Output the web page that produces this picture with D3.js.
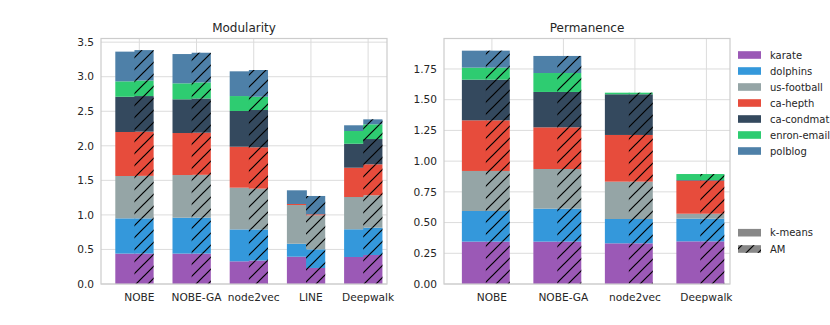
<!DOCTYPE html>
<html>
<head>
<meta charset="utf-8">
<script src="https://cdn.jsdelivr.net/npm/d3@7"></script>
<style>
  body { margin: 0; background: #fff; }
  svg { display: block; font-family: "DejaVu Sans", sans-serif; }
</style>
</head>
<body>
<div class="chart"></div>
<script>
// series (stack order, bottom to top)
var seriesNames = ["karate", "dolphins", "us-football", "ca-hepth", "ca-condmat", "enron-email", "polblog"];
var seriesColors = ["#9b59b6", "#3498db", "#95a5a6", "#e74c3c", "#34495e", "#2ecc71", "#4e80a8"];

// Modularity panel
var modCategories = ["NOBE", "NOBE-GA", "node2vec", "LINE", "Deepwalk"];
var modTicks = [0, 0.5, 1.0, 1.5, 2.0, 2.5, 3.0, 3.5];
// rows = series, cols = categories
var modKmeans = [
  [0.44, 0.44, 0.328, 0.395, 0.391],
  [0.51, 0.52, 0.462, 0.188, 0.401],
  [0.613, 0.617, 0.604, 0.56, 0.467],
  [0.637, 0.608, 0.593, 0.015, 0.424],
  [0.51, 0.488, 0.517, 0, 0.347],
  [0.223, 0.231, 0.216, 0, 0.184],
  [0.43, 0.424, 0.358, 0.198, 0.083]
];
var modAM = [
  [0.44, 0.44, 0.34, 0.232, 0.42],
  [0.51, 0.52, 0.45, 0.27, 0.395],
  [0.615, 0.62, 0.59, 0.492, 0.469],
  [0.64, 0.61, 0.598, 0.015, 0.448],
  [0.515, 0.495, 0.54, 0, 0.366],
  [0.225, 0.232, 0.192, 0, 0.213],
  [0.44, 0.43, 0.387, 0.265, 0.072]
];

// Permanence panel
var permCategories = ["NOBE", "NOBE-GA", "node2vec", "Deepwalk"];
var permTicks = [0, 0.25, 0.5, 0.75, 1.0, 1.25, 1.5, 1.75];
var permKmeans = [
  [0.345, 0.345, 0.331, 0.347],
  [0.249, 0.268, 0.198, 0.185],
  [0.326, 0.323, 0.304, 0.04],
  [0.412, 0.339, 0.38, 0.269],
  [0.331, 0.288, 0.331, 0.005],
  [0.098, 0.154, 0.013, 0.049],
  [0.138, 0.139, 0, 0]
];
var permAM = [
  [0.345, 0.345, 0.331, 0.347],
  [0.249, 0.268, 0.198, 0.185],
  [0.326, 0.323, 0.304, 0.04],
  [0.412, 0.339, 0.38, 0.269],
  [0.331, 0.288, 0.331, 0.005],
  [0.098, 0.154, 0.013, 0.049],
  [0.138, 0.139, 0, 0]
];

var methods = ["k-means", "AM"];

var w = 830, h = 325;
var svg = d3.select("div.chart").append("svg")
  .attr("width", w).attr("height", h);

//hatch pattern for AM bars
var defs = svg.append("defs");
defs.append("pattern")
  .attr("id", "hatch")
  .attr("patternUnits", "userSpaceOnUse")
  .attr("width", 12).attr("height", 12)
  .append("path")
    .attr("d", "M-3,3 l6,-6 M0,12 l12,-12 M9,15 l6,-6")
    .attr("stroke", "#000")
    .attr("stroke-width", 1.2);

function stackUp(rows) {
  // cumulative bottoms/tops per category
  var out = [];
  var nCat = rows[0].length;
  var base = d3.range(nCat).map(function(){ return 0; });
  rows.forEach(function(row, s) {
    row.forEach(function(v, c) {
      out.push({s: s, c: c, y0: base[c], y1: base[c] + v});
      base[c] += v;
    });
  });
  return out;
}

function drawPanel(opts) {
  var x = d3.scaleLinear().domain([-0.67, opts.categories.length - 1 + 0.33]).range([opts.left, opts.right]);
  var y = d3.scaleLinear().domain([0, opts.ymax]).range([opts.bottom, opts.top]);
  var g = svg.append("g");

  //grid
  g.append("g").selectAll("line.hg")
    .data(opts.ticks).enter().append("line")
      .attr("x1", opts.left).attr("x2", opts.right)
      .attr("y1", function(d){ return y(d); }).attr("y2", function(d){ return y(d); })
      .attr("stroke", "#dcdcdc").attr("stroke-width", 1);
  g.append("g").selectAll("line.vg")
    .data(opts.categories).enter().append("line")
      .attr("x1", function(d, i){ return x(i); }).attr("x2", function(d, i){ return x(i); })
      .attr("y1", opts.top).attr("y2", opts.bottom)
      .attr("stroke", "#dcdcdc").attr("stroke-width", 1);

  var bw = x(0.335) - x(0);
  [opts.kmeans, opts.am].forEach(function(rows, m) {
    var off = m === 0 ? -0.42 : -0.085;
    var segs = stackUp(rows);
    var bars = g.append("g");
    bars.selectAll("rect")
      .data(segs).enter().append("rect")
        .attr("x", function(d){ return x(d.c + off); })
        .attr("width", m === 0 ? bw + 0.8 : bw)
        .attr("y", function(d){ return y(d.y1); })
        .attr("height", function(d){ return y(d.y0) - y(d.y1); })
        .attr("fill", function(d){ return seriesColors[d.s]; });
    if (m === 1) {
      bars.selectAll("rect.h")
        .data(segs).enter().append("rect")
          .attr("x", function(d){ return x(d.c + off); })
          .attr("width", bw)
          .attr("y", function(d){ return y(d.y1); })
          .attr("height", function(d){ return y(d.y0) - y(d.y1); })
          .attr("fill", "url(#hatch)");
    }
  });

  //frame
  g.append("rect")
    .attr("x", opts.left).attr("y", opts.top)
    .attr("width", opts.right - opts.left).attr("height", opts.bottom - opts.top)
    .attr("fill", "none").attr("stroke", "#cccccc").attr("stroke-width", 1.2);

  //y tick labels
  g.append("g").selectAll("text")
    .data(opts.ticks).enter().append("text")
      .attr("x", opts.left - 7)
      .attr("y", function(d){ return y(d); })
      .attr("dy", "0.35em")
      .attr("text-anchor", "end")
      .attr("font-size", "10.6px")
      .attr("fill", "#262626")
      .text(function(d){ return d3.format(opts.fmt)(d); });

  //x tick labels
  g.append("g").selectAll("text")
    .data(opts.categories).enter().append("text")
      .attr("x", function(d, i){ return x(i); })
      .attr("y", opts.bottom + 17)
      .attr("text-anchor", "middle")
      .attr("font-size", "10.6px")
      .attr("fill", "#262626")
      .text(function(d){ return d; });

  //title
  g.append("text")
    .attr("x", (opts.left + opts.right) / 2)
    .attr("y", opts.top - 7)
    .attr("text-anchor", "middle")
    .attr("font-size", "12px")
    .attr("fill", "#262626")
    .text(opts.title);
}

drawPanel({
  title: "Modularity", categories: modCategories, ticks: modTicks,
  kmeans: modKmeans, am: modAM, ymax: 3.553, fmt: ".1f",
  left: 101, right: 387, top: 38.5, bottom: 284
});
drawPanel({
  title: "Permanence", categories: permCategories, ticks: permTicks,
  kmeans: permKmeans, am: permAM, ymax: 1.998, fmt: ".2f",
  left: 444, right: 730, top: 38.5, bottom: 284
});

//legend
var legend = svg.append("g");
var rowY = d3.scaleLinear().domain([0, 1]).range([55, 71]);
var items = legend.selectAll("g.item")
  .data(seriesNames).enter().append("g")
    .attr("transform", function(d, i){ return "translate(738," + rowY(i) + ")"; });
items.append("rect")
  .attr("x", 0).attr("y", -3.8).attr("width", 23).attr("height", 7.6)
  .attr("fill", function(d, i){ return seriesColors[i]; });
items.append("text")
  .attr("x", 32).attr("dy", "0.35em")
  .attr("font-size", "10px").attr("fill", "#262626")
  .text(function(d){ return d; });

var mItems = legend.selectAll("g.m")
  .data(methods).enter().append("g")
    .attr("transform", function(d, i){ return "translate(738," + (232.7 + i * 16.3) + ")"; });
mItems.append("rect")
  .attr("x", 0).attr("y", -3.8).attr("width", 23).attr("height", 7.6)
  .attr("fill", "#888888");
mItems.filter(function(d){ return d === "AM"; }).append("rect")
  .attr("x", 0).attr("y", -3.8).attr("width", 23).attr("height", 7.6)
  .attr("fill", "url(#hatch)");
mItems.append("text")
  .attr("x", 32).attr("dy", "0.35em")
  .attr("font-size", "10px").attr("fill", "#262626")
  .text(function(d){ return d; });
</script>
</body>
</html>
